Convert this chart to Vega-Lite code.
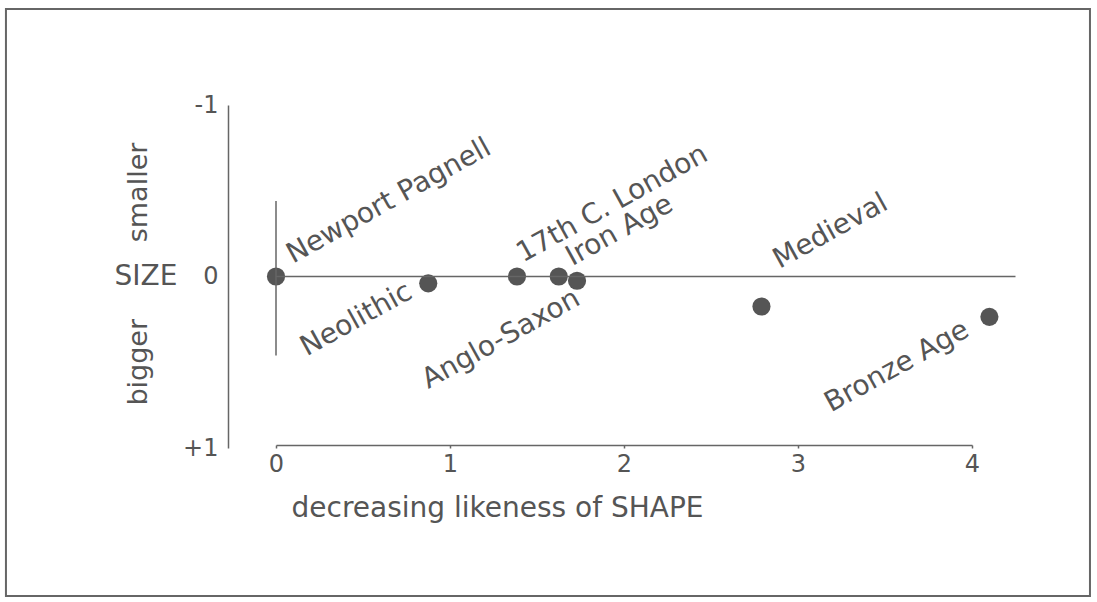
{
  "$schema": "https://vega.github.io/schema/vega-lite/v6.json",
  "width": 696,
  "height": 343,
  "autosize": {"type": "none"},
  "padding": {"left": 276, "top": 105, "right": 125, "bottom": 154},
  "background": "white",
  "config": {
    "view": {"stroke": null},
    "font": "DejaVu Sans",
    "axis": {"labelFont": "DejaVu Sans", "titleFont": "DejaVu Sans", "grid": false}
  },
  "datasets": {
    "sites": [
      {"site": "Newport Pagnell", "shape": 0.0, "size": 0.0},
      {"site": "Neolithic", "shape": 0.875, "size": 0.04},
      {"site": "17th C. London", "shape": 1.385, "size": 0.0},
      {"site": "Anglo-Saxon", "shape": 1.625, "size": 0.0},
      {"site": "Iron Age", "shape": 1.73, "size": 0.025},
      {"site": "Medieval", "shape": 2.79, "size": 0.175},
      {"site": "Bronze Age", "shape": 4.1, "size": 0.235}
    ]
  },
  "layer": [
    {
      "data": {"name": "sites"},
      "mark": {"type": "circle", "size": 330, "color": "#555", "opacity": 1},
      "encoding": {
        "x": {
          "field": "shape", "type": "quantitative",
          "scale": {"domain": [0, 4], "nice": false, "zero": false},
          "axis": {
            "values": [0, 1, 2, 3, 4], "format": "d",
            "tickSize": 3, "tickColor": "#666", "tickWidth": 1.5,
            "domainColor": "#666", "domainWidth": 1.5, "offset": -3,
            "title": "decreasing likeness of SHAPE", "titleAnchor": "start", "titleAlign": "left", "titleX": 15,
            "titleFontWeight": "normal", "titleFontSize": 28, "titleColor": "#555", "titlePadding": 18,
            "labelFontSize": 24, "labelColor": "#555", "labelPadding": 4, "labelFlush": false
          }
        },
        "y": {
          "field": "size", "type": "quantitative",
          "scale": {"domain": [-1, 1], "nice": false, "zero": false, "reverse": true},
          "axis": {
            "values": [-1, 0, 1],
            "labelExpr": "datum.value > 0 ? '+1' : (datum.value < 0 ? '-1' : '0')",
            "ticks": false, "domainColor": "#666", "domainWidth": 1.5, "offset": 48,
            "title": null, "labelFontSize": 24, "labelColor": "#555", "labelPadding": 10
          }
        }
      }
    },
    {
      "data": {"values": [{}]},
      "mark": {"type": "rect", "fill": null, "stroke": "#666", "strokeWidth": 2},
      "encoding": {
        "x": {"datum": -1.552},
        "x2": {"datum": 4.678},
        "y": {"datum": -1.56},
        "y2": {"datum": 1.863}
      }
    },
    {
      "data": {"values": [{}]},
      "mark": {"type": "rule", "color": "#666", "strokeWidth": 1.5},
      "encoding": {
        "x": {"datum": 0},
        "y": {"datum": -0.44},
        "y2": {"datum": 0.46}
      }
    },
    {
      "data": {"values": [{}]},
      "mark": {"type": "rule", "color": "#666", "strokeWidth": 1.5},
      "encoding": {
        "x": {"datum": 0},
        "x2": {"datum": 4.25},
        "y": {"datum": 0}
      }
    },
    {
      "data": {"values": [{}]},
      "mark": {"type": "text", "fontSize": 28, "color": "#555", "align": "center", "baseline": "middle"},
      "encoding": {
        "x": {"datum": -0.747},
        "y": {"datum": 0},
        "text": {"value": "SIZE"}
      }
    },
    {
      "data": {"values": [{}]},
      "mark": {"type": "text", "fontSize": 27, "color": "#555", "align": "center", "baseline": "middle", "angle": 270},
      "encoding": {
        "x": {"datum": -0.787},
        "y": {"datum": -0.49},
        "text": {"value": "smaller"}
      }
    },
    {
      "data": {"values": [{}]},
      "mark": {"type": "text", "fontSize": 27, "color": "#555", "align": "center", "baseline": "middle", "angle": 270},
      "encoding": {
        "x": {"datum": -0.787},
        "y": {"datum": 0.5},
        "text": {"value": "bigger"}
      }
    },
    {
      "data": {"name": "sites"},
      "transform": [{"filter": "datum.site === 'Newport Pagnell'"}],
      "mark": {"type": "text", "fontSize": 28, "color": "#555", "angle": 331, "align": "left", "baseline": "alphabetic", "dx": 21, "dy": -3},
      "encoding": {"x": {"field": "shape", "type": "quantitative"}, "y": {"field": "size", "type": "quantitative"}, "text": {"field": "site"}}
    },
    {
      "data": {"name": "sites"},
      "transform": [{"filter": "datum.site === '17th C. London'"}],
      "mark": {"type": "text", "fontSize": 28, "color": "#555", "angle": 331, "align": "left", "baseline": "alphabetic", "dx": 12, "dy": -9},
      "encoding": {"x": {"field": "shape", "type": "quantitative"}, "y": {"field": "size", "type": "quantitative"}, "text": {"field": "site"}}
    },
    {
      "data": {"name": "sites"},
      "transform": [{"filter": "datum.site === 'Iron Age'"}],
      "mark": {"type": "text", "fontSize": 28, "color": "#555", "angle": 331, "align": "left", "baseline": "alphabetic", "dx": 3, "dy": -15},
      "encoding": {"x": {"field": "shape", "type": "quantitative"}, "y": {"field": "size", "type": "quantitative"}, "text": {"field": "site"}}
    },
    {
      "data": {"name": "sites"},
      "transform": [{"filter": "datum.site === 'Medieval'"}],
      "mark": {"type": "text", "fontSize": 28, "color": "#555", "angle": 331, "align": "left", "baseline": "alphabetic", "dx": 34, "dy": -24},
      "encoding": {"x": {"field": "shape", "type": "quantitative"}, "y": {"field": "size", "type": "quantitative"}, "text": {"field": "site"}}
    },
    {
      "data": {"name": "sites"},
      "transform": [{"filter": "datum.site === 'Neolithic'"}],
      "mark": {"type": "text", "fontSize": 28, "color": "#555", "angle": 331, "align": "right", "baseline": "alphabetic", "dx": -19, "dy": 5},
      "encoding": {"x": {"field": "shape", "type": "quantitative"}, "y": {"field": "size", "type": "quantitative"}, "text": {"field": "site"}}
    },
    {
      "data": {"name": "sites"},
      "transform": [{"filter": "datum.site === 'Anglo-Saxon'"}],
      "mark": {"type": "text", "fontSize": 28, "color": "#555", "angle": 331, "align": "right", "baseline": "alphabetic", "dx": 7, "dy": 35},
      "encoding": {"x": {"field": "shape", "type": "quantitative"}, "y": {"field": "size", "type": "quantitative"}, "text": {"field": "site"}}
    },
    {
      "data": {"name": "sites"},
      "transform": [{"filter": "datum.site === 'Bronze Age'"}],
      "mark": {"type": "text", "fontSize": 28, "color": "#555", "angle": 331, "align": "right", "baseline": "alphabetic", "dx": -25, "dy": 7},
      "encoding": {"x": {"field": "shape", "type": "quantitative"}, "y": {"field": "size", "type": "quantitative"}, "text": {"field": "site"}}
    }
  ]
}
